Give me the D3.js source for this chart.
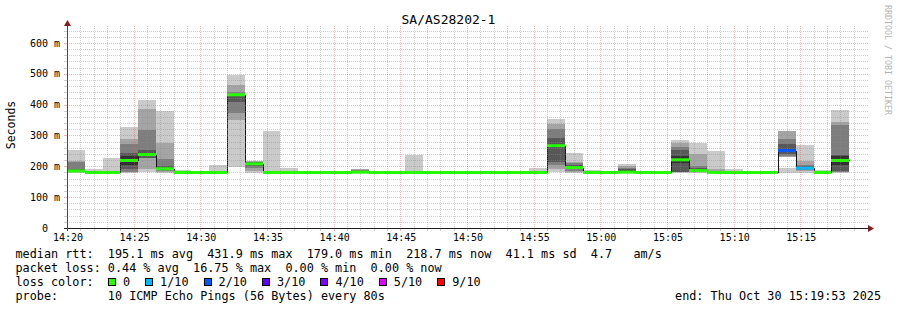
<!DOCTYPE html>
<html>
<head>
<meta charset="utf-8">
<script src="https://cdn.jsdelivr.net/npm/d3@7"></script>
<style>
body { margin: 0; background: #fff; }
text { font-family: "DejaVu Sans Mono", monospace; white-space: pre; fill: #000; }
</style>
</head>
<body>
<div id="chart"></div>
<script>
// ---- data (ms) ----
const title = "SA/AS28202-1";
const startTime = new Date(2025, 9, 30, 14, 20, 0);
const endTime = new Date(2025, 9, 30, 15, 20, 0);
const stepSeconds = 80;

const medians = [185, 180, 180, 219, 238, 192, 180, 180, 180, 432,
                 208, 180, 180, 180, 180, 180, 181, 180, 180, 180,
                 180, 180, 180, 180, 180, 180, 180, 267, 196, 180,
                 180, 181, 180, 180, 221, 186, 180, 180, 180, 180,
                 251, 194, 180, 219, null];

const losses = [0, 0, 0, 0, 0, 0, 0, 0, 0, 0,
                0, 0, 0, 0, 0, 0, 0, 0, 0, 0,
                0, 0, 0, 0, 0, 0, 0, 0, 0, 0,
                0, 0, 0, 0, 0, 0, 0, 0, 0, 0,
                2, 1, 0, 0, null];

const flat = [179, 179, 179, 180, 180, 180, 180, 181, 181, 182];
const pings = [
    [179, 180, 181, 182, 184, 186, 190, 213, 218, 253],
    [179, 179, 180, 180, 180, 180, 181, 181, 183, 190],
    [179, 180, 180, 180, 180, 181, 181, 182, 185, 227],
    [179, 180, 183, 190, 205, 232, 242, 272, 289, 328],
    [180, 191, 226, 228, 234, 242, 253, 318, 386, 415],
    [179, 181, 185, 188, 190, 194, 200, 224, 277, 380],
    [179, 179, 180, 180, 180, 180, 181, 182, 183, 188],
    flat,
    [179, 180, 180, 180, 180, 180, 181, 182, 185, 204],
    [199, 350, 372, 410, 430, 434, 436, 442, 464, 496],
    [179, 185, 195, 200, 204, 211, 213, 214, 216, 218],
    [179, 179, 180, 180, 180, 180, 181, 182, 184, 315],
    [179, 179, 180, 180, 180, 180, 181, 181, 183, 196],
    flat,
    [179, 179, 180, 180, 180, 180, 181, 181, 182, 185],
    [179, 179, 180, 180, 180, 180, 181, 181, 182, 185],
    [179, 180, 181, 183, 184, 185, 186, 188, 190, 191],
    flat,
    flat,
    [179, 179, 180, 180, 180, 180, 181, 182, 184, 237],
    [179, 179, 180, 180, 180, 180, 181, 181, 182, 185],
    flat,
    flat,
    flat,
    [179, 179, 180, 180, 180, 180, 181, 181, 182, 185],
    flat,
    [179, 179, 180, 180, 180, 180, 181, 181, 184, 196],
    [181, 190, 204, 215, 262, 272, 292, 320, 337, 353],
    [179, 181, 186, 190, 194, 198, 203, 210, 215, 244],
    [179, 179, 180, 180, 180, 180, 181, 181, 183, 188],
    flat,
    [179, 180, 180, 181, 181, 182, 190, 196, 200, 207],
    flat,
    flat,
    [179, 180, 181, 182, 210, 232, 253, 262, 275, 285],
    [179, 180, 182, 184, 185, 187, 195, 201, 239, 277],
    [179, 179, 180, 180, 180, 181, 182, 184, 190, 251],
    [179, 179, 180, 180, 180, 180, 181, 182, 186, 192],
    [179, 179, 180, 180, 180, 180, 181, 181, 182, 186],
    flat,
    [179, 231, 235, 240, 246, 256, 272, 289, 315, 194],
    [179, 184, 188, 190, 192, 196, 200, 205, 217, 269],
    [179, 179, 180, 180, 180, 180, 181, 181, 183, 188],
    [179, 181, 183, 186, 205, 232, 237, 334, 345, 383],
    null
];

const smokeColors = ["#cacaca", "#a4a4a4", "#7e7e7e", "#585858", "#323232"];
const lossCounts = [0, 1, 2, 3, 4, 5, 9];
const lossLabels = ["0", "1/10", "2/10", "3/10", "4/10", "5/10", "9/10"];
const lossColors = ["#26ff00", "#00b8ff", "#0059ff", "#5e00ff", "#7e00ff", "#dd00ff", "#ff0000"];

const yTicks = [0, 100, 200, 300, 400, 500, 600];

const legendRows = [
    "median rtt:  195.1 ms avg  431.9 ms max  179.0 ms min  218.7 ms now  41.1 ms sd  4.7   am/s",
    "packet loss: 0.44 % avg  16.75 % max  0.00 % min  0.00 % now",
    "loss color:",
    "probe:       10 ICMP Echo Pings (56 Bytes) every 80s"
];
const endLabel = "end: Thu Oct 30 15:19:53 2025";

// ---- layout ----
const width = 897, height = 310;
const plotLeft = 67, plotRight = 867, plotTop = 26, plotBottom = 228;
const minorColor = "rgba(140,140,140,0.42)";
const majorColor = "rgba(230,90,90,0.45)";

let svg = d3.select("#chart")
    .append("svg")
    .attr("width", width)
    .attr("height", height);

svg.append("rect").attr("width", width).attr("height", height).attr("fill", "#fff");

let x = d3.scaleTime().domain([startTime, endTime]).range([plotLeft, plotRight]);
let y = d3.scaleLinear().domain([0, 655]).range([plotBottom, plotTop]);

let barStart = i => new Date(+startTime + i * stepSeconds * 1000);
let bars = medians.map((m, i) => ({
    i: i,
    t0: barStart(i),
    t1: barStart(i + 1),
    median: m,
    loss: losses[i],
    pings: pings[i]
}));

// smoke bands: outer pair lightest, inner pair darkest
let smoke = svg.append("g").attr("shape-rendering", "crispEdges");
bars.filter(d => d.pings).forEach(d => {
    smokeColors.forEach((c, k) => {
        let lo = d.pings[k], hi = d.pings[9 - k];
        let y0 = y(Math.max(lo, hi)), y1 = y(Math.min(lo, hi));
        if (y1 - y0 < 0.5) return;
        smoke.append("rect")
            .attr("x", Math.round(x(d.t0)))
            .attr("width", Math.round(x(d.t1)) - Math.round(x(d.t0)))
            .attr("y", y0)
            .attr("height", y1 - y0)
            .attr("fill", c);
    });
});

// median step line
let stepPts = bars.flatMap(d => [
    { x: Math.round(x(d.t0)), m: d.median },
    { x: Math.round(x(d.t1)), m: d.median }
]);
let medianLine = d3.line()
    .defined(p => p.m != null)
    .x(p => p.x + 0.5)
    .y(p => Math.round(y(p.m)) + 0.5);
svg.append("path")
    .datum(stepPts)
    .attr("d", medianLine)
    .attr("fill", "none")
    .attr("stroke", "#151515")
    .attr("stroke-width", 1)
    .attr("shape-rendering", "crispEdges");

// loss coloured median band
svg.append("g").selectAll("rect")
    .data(bars.filter(d => d.median != null))
    .enter()
    .append("rect")
    .attr("x", d => Math.round(x(d.t0)))
    .attr("width", d => Math.round(x(d.t1)) - Math.round(x(d.t0)))
    .attr("y", d => y(d.median) - 1.5)
    .attr("height", 3)
    .attr("fill", d => lossColors[lossCounts.indexOf(d.loss)]);

// grid (drawn over the data, like rrdtool)
let grid = svg.append("g").attr("shape-rendering", "crispEdges").attr("stroke-dasharray", "1,1");
let minorY = d3.range(20, 655, 20).filter(v => v % 100 != 0);
let majorY = d3.range(100, 655, 100);
let minutes = d3.timeMinute.range(new Date(+startTime + 60000), endTime);
let minorX = minutes.filter(t => t.getMinutes() % 5 != 0);
let majorX = minutes.filter(t => t.getMinutes() % 5 == 0);

grid.selectAll(".minorY").data(minorY).enter().append("line")
    .attr("x1", plotLeft).attr("x2", plotRight + 1)
    .attr("y1", v => Math.round(y(v)) + 0.5).attr("y2", v => Math.round(y(v)) + 0.5)
    .attr("stroke", minorColor);
grid.selectAll(".minorX").data(minorX).enter().append("line")
    .attr("x1", t => Math.round(x(t)) + 0.5).attr("x2", t => Math.round(x(t)) + 0.5)
    .attr("y1", plotTop).attr("y2", plotBottom)
    .attr("stroke", minorColor);
grid.selectAll(".majorY").data(majorY).enter().append("line")
    .attr("x1", plotLeft).attr("x2", plotRight + 1)
    .attr("y1", v => Math.round(y(v)) + 0.5).attr("y2", v => Math.round(y(v)) + 0.5)
    .attr("stroke", majorColor);
grid.selectAll(".majorX").data(majorX).enter().append("line")
    .attr("x1", t => Math.round(x(t)) + 0.5).attr("x2", t => Math.round(x(t)) + 0.5)
    .attr("y1", plotTop).attr("y2", plotBottom)
    .attr("stroke", majorColor);

// small tick marks on the axes
let ticks = svg.append("g").attr("shape-rendering", "crispEdges");
ticks.selectAll(".tx").data(minutes).enter().append("line")
    .attr("x1", t => Math.round(x(t)) + 0.5).attr("x2", t => Math.round(x(t)) + 0.5)
    .attr("y1", plotBottom).attr("y2", plotBottom + 3)
    .attr("stroke", t => t.getMinutes() % 5 == 0 ? majorColor : minorColor);
ticks.selectAll(".ty").data(d3.range(20, 655, 20)).enter().append("line")
    .attr("x1", plotLeft - 3).attr("x2", plotLeft)
    .attr("y1", v => Math.round(y(v)) + 0.5).attr("y2", v => Math.round(y(v)) + 0.5)
    .attr("stroke", v => v % 100 == 0 ? majorColor : minorColor);

// axes + arrows
svg.append("line")
    .attr("x1", plotLeft - 3).attr("x2", plotRight + 1)
    .attr("y1", plotBottom + 0.5).attr("y2", plotBottom + 0.5)
    .attr("stroke", "#1f1f1f").attr("shape-rendering", "crispEdges");
svg.append("line")
    .attr("x1", plotLeft + 0.5).attr("x2", plotLeft + 0.5)
    .attr("y1", plotBottom + 3).attr("y2", plotTop - 1)
    .attr("stroke", "#7a3434").attr("shape-rendering", "crispEdges");
svg.append("path")
    .attr("d", `M${plotRight + 1},${plotBottom - 3} L${plotRight + 7},${plotBottom + 0.5} L${plotRight + 1},${plotBottom + 4} Z`)
    .attr("fill", "#7f1f1f");
svg.append("path")
    .attr("d", `M${plotLeft - 3},${plotTop} L${plotLeft + 0.5},${plotTop - 6} L${plotLeft + 4},${plotTop} Z`)
    .attr("fill", "#7f1f1f");

// tick labels
svg.append("g").selectAll("text")
    .data(yTicks).enter().append("text")
    .attr("x", 60)
    .attr("y", v => y(v))
    .attr("dy", "0.36em")
    .attr("text-anchor", "end")
    .style("font-size", "10px")
    .text(v => v == 0 ? "0  " : v + " m");

let fmt = d3.timeFormat("%H:%M");
svg.append("g").selectAll("text")
    .data(d3.timeMinute.every(5).range(startTime, endTime)).enter().append("text")
    .attr("x", t => x(t) + 1)
    .attr("y", 241)
    .attr("text-anchor", "middle")
    .style("font-size", "10px")
    .text(t => fmt(t));

// titles
svg.append("text")
    .attr("x", 448.5).attr("y", 24)
    .attr("text-anchor", "middle")
    .style("font-size", "13px")
    .text(title);

svg.append("text")
    .attr("transform", "translate(15,125) rotate(-90)")
    .attr("text-anchor", "middle")
    .style("font-size", "11.5px")
    .text("Seconds");

svg.append("text")
    .attr("transform", "translate(885,5) rotate(90)")
    .style("font-size", "8.3px")
    .style("fill", "#b4b4b4")
    .text("RRDTOOL / TOBI OETIKER");

// legend
let legend = svg.append("g").style("font-size", "11.8px");
legendRows.forEach((row, i) => {
    legend.append("text")
        .attr("x", 15.5)
        .attr("y", 257.7 + i * 14)
        .text(row);
});

let lx = 108;
lossLabels.forEach((lab, i) => {
    legend.append("rect")
        .attr("x", lx + 0.5).attr("y", 278.5)
        .attr("width", 7).attr("height", 7)
        .attr("fill", lossColors[i])
        .attr("stroke", "#000")
        .attr("shape-rendering", "crispEdges");
    let t = legend.append("text")
        .attr("x", lx + 15)
        .attr("y", 285.7)
        .text(lab);
    lx = lx + 15 + t.node().getComputedTextLength() + 15;
});

legend.append("text")
    .attr("x", 881)
    .attr("y", 300)
    .attr("text-anchor", "end")
    .text(endLabel);
</script>
</body>
</html>
